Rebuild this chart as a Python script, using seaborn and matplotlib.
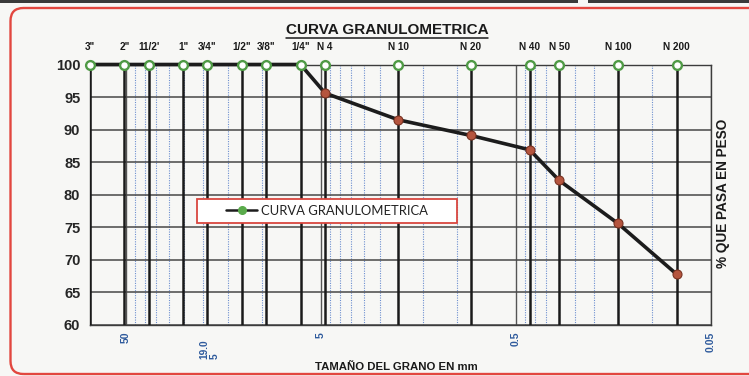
import matplotlib
matplotlib.use("Agg")
import matplotlib.pyplot as plt
import matplotlib.transforms as mtransforms
from matplotlib.lines import Line2D
from matplotlib.patches import Rectangle, FancyBboxPatch
from matplotlib.ticker import NullFormatter
import numpy as np
import pandas as pd
import seaborn as sns

# Serie de tamices ASTM y resultados del ensayo
tamiz = ['3"', '2"', "11/2'", '1"', '3/4"', '1/2"', '3/8"', '1/4"',
         'N 4', 'N 10', 'N 20', 'N 40', 'N 50', 'N 100', 'N 200']
abertura_mm = [76.2, 50.8, 38.1, 25.4, 19.05, 12.7, 9.525, 6.35,
               4.75, 2.0, 0.85, 0.425, 0.3, 0.15, 0.075]
pasa = [100, 100, 100, 100, 100, 100, 100, 100,
        95.6, 91.5, 89.1, 86.9, 82.2, 75.6, 67.8]

# Escala del eje de tamaños
ticks_mm = [50, 5, 0.5, 0.05]
ticks_txt = ["50", "5", "0.5", "0.05"]
y_ticks = [60, 65, 70, 75, 80, 85, 90, 95, 100]
tope = 100

sns.set_theme(style="white")
plt.rcParams["font.family"] = ["Liberation Sans", "DejaVu Sans"]

BG = "#f7f7f5"
W, H = 749, 376
fig = plt.figure(figsize=(W / 100, H / 100), dpi=100, facecolor=BG)
px = mtransforms.IdentityTransform()

# Marco exterior redondeado y franja superior
fig.add_artist(Rectangle((0, H - 3), 578, 3, transform=px, color="#3a3a3a", lw=0))
fig.add_artist(Rectangle((588, H - 3), W - 588, 3, transform=px, color="#3a3a3a", lw=0))
fig.add_artist(FancyBboxPatch((10.5, 2), 790, H - 10, transform=px,
                              boxstyle="round,pad=0,rounding_size=13",
                              fc="none", ec="#e2473f", lw=1.7))

ax = fig.add_axes([90 / W, 1 - 325 / H, (711 - 90) / W, (325 - 64.5) / H])
ax.set_facecolor(BG)

df = pd.DataFrame({"tamiz": tamiz, "abertura": abertura_mm, "pasa": pasa})

ax.set_xscale("log")
ax.set_xlim(76.2, 0.05)
ax.set_ylim(60, 100)
ax.set_yticks(y_ticks)
ax.set_xticks(ticks_mm)
ax.set_xticklabels(ticks_txt)
minor = [k * f for f in (10, 1, 0.1) for k in (1, 1.5, 2, 2.5, 3, 3.5, 4, 4.5)]
ax.set_xticks(minor, minor=True)
ax.xaxis.set_minor_formatter(NullFormatter())

ax.grid(axis="y", which="major", color="#474747", lw=1.1)
ax.grid(axis="x", which="major", color="#555555", lw=1.0)
ax.grid(axis="x", which="minor", color="#6d8fd0", lw=0.8, ls=(0, (1, 1.2)))
ax.set_axisbelow(True)

ax.tick_params(axis="x", which="minor", length=0)
ax.tick_params(axis="x", which="major", length=3, width=1, color="#555555",
               pad=2, labelsize=7.5, labelcolor="#2e5a9c", labelrotation=90)
ax.tick_params(axis="y", length=4, width=1, color="#444444", pad=3, labelsize=10.5)
for lbl in ax.get_xticklabels():
    lbl.set_fontweight("bold")
for lbl in ax.get_yticklabels():
    lbl.set_fontweight("bold")
    lbl.set_family(["Liberation Sans Narrow", "Liberation Sans"])
for sp in ax.spines.values():
    sp.set_color("#3c3c3c")
    sp.set_linewidth(1.0)

# Líneas verticales de cada tamiz
ax.vlines(df["abertura"], 60, tope, colors="#1a1a1a", lw=1.8, zorder=3)

# Curva granulométrica
sns.lineplot(data=df, x="abertura", y="pasa", ax=ax, color="#1c1c1c", lw=2.6,
             sort=False, estimator=None, legend=False, zorder=4, clip_on=False)
sns.scatterplot(data=df[df["pasa"] < tope], x="abertura", y="pasa", ax=ax,
                color="#b5553e", edgecolor="#7a3322", s=42, linewidth=0.8,
                legend=False, zorder=5)
sns.scatterplot(x=df["abertura"], y=[tope] * len(df), ax=ax, facecolor="white",
                edgecolor="#4f9a45", s=40, linewidth=1.7, legend=False,
                zorder=6, clip_on=False)
ax.set_xlabel("")
ax.set_ylabel("")

# Nombres de tamices sobre el gráfico
for t, x in zip(df["tamiz"], df["abertura"]):
    ax.annotate(t, xy=(x, 1), xycoords=("data", "axes fraction"),
                xytext=(0, 9), textcoords="offset points", ha="center",
                va="bottom", fontsize=7.2, fontweight="bold", color="#1a1a1a")

ax.annotate("19.0\n5", xy=(19.05, 0), xycoords=("data", "axes fraction"),
            xytext=(1.5, -10.5), textcoords="offset points", ha="center", va="top",
            rotation=90, multialignment="left", linespacing=0.95,
            fontsize=7.3, fontweight="bold", color="#2e5a9c")

# Leyenda
ax.add_patch(Rectangle((0.1723, 0.3916), 0.4187, 0.0921, transform=ax.transAxes,
                       fc="white", ec="#d9463f", lw=1.3, zorder=7, clip_on=False))
handle = Line2D([], [], color="#1c1c1c", lw=1.8, marker="o", mfc="#5aab4b",
                mec="#5aab4b", ms=5.5)
leg = ax.legend([handle], ["CURVA GRANULOMETRICA"], loc="center",
                bbox_to_anchor=(0.3816, 0.4376), frameon=False,
                handlelength=2.4, handletextpad=0.3,
                prop={"family": "Lato", "size": 9.4})
leg.set_zorder(8)
for t in leg.get_texts():
    t.set_color("#222222")

# Títulos
title = fig.text(387 / W, 1 - 30 / H, "CURVA GRANULOMETRICA", ha="center",
                 va="center", fontsize=11, fontweight="bold", color="#1a1a1a")
fig.text(396 / W, 1 - 367 / H, "TAMAÑO DEL GRANO EN mm", ha="center",
         va="center", fontsize=8.2, fontweight="bold", color="#1a1a1a")
fig.text(723 / W, 1 - 193 / H, "% QUE PASA EN PESO", ha="center", va="center",
         rotation=90, fontsize=9.8, fontweight="bold", color="#1a1a1a")

fig.canvas.draw()
bb = title.get_window_extent()
fig.add_artist(Line2D([bb.x0, bb.x1], [bb.y0 - 1, bb.y0 - 1], transform=px,
                      color="#1a1a1a", lw=1.1))

fig.savefig("out.png", dpi=100, facecolor=BG)
